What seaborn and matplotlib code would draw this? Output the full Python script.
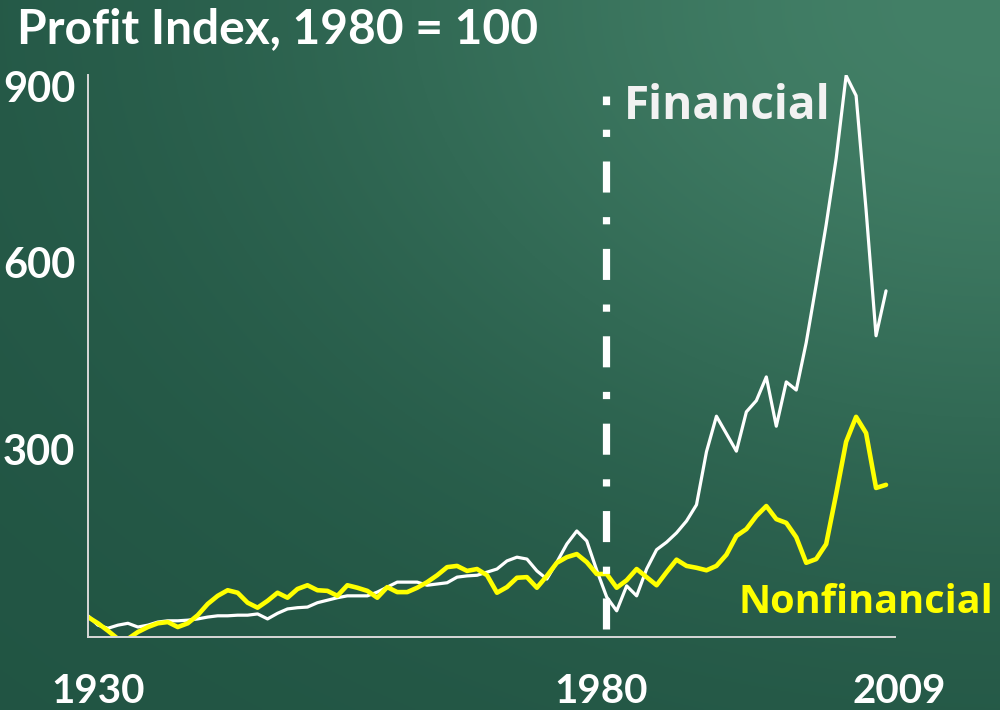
import numpy as np
import pandas as pd
import matplotlib
matplotlib.use("Agg")
import matplotlib.pyplot as plt
import matplotlib.transforms as mtransforms
import seaborn as sns

# =========================
# data
# =========================
years = list(range(1929, 2010))

financial = [
    34, 19, 14, 19, 22, 16, 19, 24, 26, 26,
    27, 29, 32, 34, 34, 35, 35, 37, 29, 38,
    45, 47, 48, 55, 59, 63, 66, 66, 66, 72,
    80, 88, 88, 88, 83, 85, 87, 96, 98, 99,
    104, 109, 122, 128, 125, 106, 93, 120, 149, 170,
    154, 107, 64, 42, 82, 66, 109, 140, 152, 167,
    186, 212, 297, 354, 326, 298, 361, 379, 417, 338,
    409, 396, 472, 565, 661, 767, 900, 868, 685, 483,
    555,
]

nonfinancial = [
    32, 22, 10, -3, -3, 8, 16, 22, 24, 16,
    22, 35, 53, 66, 75, 71, 55, 47, 58, 71,
    63, 77, 83, 75, 74, 66, 83, 79, 74, 63,
    80, 72, 72, 79, 88, 99, 112, 114, 106, 109,
    99, 71, 80, 95, 96, 79, 98, 119, 128, 133,
    120, 101, 101, 79, 91, 109, 96, 83, 104, 124,
    114, 111, 107, 114, 132, 162, 173, 194, 210, 189,
    183, 160, 119, 125, 149, 229, 313, 353, 327, 239,
    244,
]

ytick_vals = [300, 600, 900]
xtick_years = [1930, 1980, 2009]
title = "Profit Index, 1980 = 100"

df = pd.DataFrame({"year": years, "Financial": financial, "Nonfinancial": nonfinancial})

# =========================
# style
# =========================
sns.set_style("white")
plt.rcParams["font.family"] = ["Lato", "DejaVu Sans"]

fig = plt.figure(figsize=(10, 7.1), dpi=100)

# chalkboard-like green gradient
bg_ax = fig.add_axes([0, 0, 1, 1], zorder=-10)
gx, gy = np.meshgrid(np.linspace(0, 1, 400), np.linspace(0, 1, 300))
d2 = (1 - gx) ** 2 + (1 - gy) ** 2
t = np.exp(-d2 / 0.5)[..., None]
dark = np.array([0x21, 0x54, 0x43]) / 255
light = np.array([0x43, 0x80, 0x67]) / 255
bg_ax.imshow(dark + (light - dark) * t, origin="lower", extent=[0, 1, 0, 1], aspect="auto")
bg_ax.axis("off")

ax = fig.add_axes([0.088, 0.1028, 0.807, 0.7915])
ax.patch.set_alpha(0)

sns.lineplot(data=df, x="year", y="Financial", ax=ax, color="white", lw=2.3)
sns.lineplot(data=df, x="year", y="Nonfinancial", ax=ax, color="#ffff00", lw=3.3)

ax.set_xlim(1929, 2009.9)
ax.set_ylim(0, 901)

# 1980 divider (dash-dot, drawn bottom -> top)
divider_year = 1980.9
ax.plot([divider_year, divider_year], [13, 868], color="white", lw=5.2,
        dashes=(4.3, 3.4, 1.0, 3.4), solid_capstyle="butt", dash_capstyle="butt")

# spines / ticks
for s in ["top", "right"]:
    ax.spines[s].set_visible(False)
for s in ["left", "bottom"]:
    ax.spines[s].set_color("#d8d8d8")
    ax.spines[s].set_linewidth(1.4)

ax.set_yticks(ytick_vals)
ax.set_yticklabels([str(v) for v in ytick_vals])
ax.set_xticks(xtick_years)
ax.set_xticklabels([str(v) for v in xtick_years])
ax.tick_params(axis="y", length=0, pad=9, labelsize=30, labelcolor="white")
ax.tick_params(axis="x", length=0, pad=26, labelsize=29, labelcolor="white")
for lab in ax.get_yticklabels() + ax.get_xticklabels():
    lab.set_fontweight("bold")
ax.set_xlabel("")
ax.set_ylabel("")

# nudge a few labels like in the original slide
shift = lambda dx, dy: mtransforms.ScaledTranslation(dx / 100, dy / 100, fig.dpi_scale_trans)
ylabs = ax.get_yticklabels()
ylabs[-1].set_transform(ylabs[-1].get_transform() + shift(0, -11))
xlabs = ax.get_xticklabels()
xlabs[1].set_transform(xlabs[1].get_transform() + shift(4, 0))
xlabs[2].set_transform(xlabs[2].get_transform() + shift(13, 0))

# series labels
ax.text(1982.7, 831, "Financial", color="#f2f2f2", fontsize=33, fontweight="bold",
        family=["Open Sans", "DejaVu Sans"], va="baseline", ha="left")
ax.text(1994.2, 38, "Nonfinancial", color="#ffff00", fontsize=28.5, fontweight="bold",
        family=["Open Sans", "DejaVu Sans"], va="baseline", ha="left")

fig.text(0.017, 0.939, title, color="white", fontsize=34.5, fontweight="bold",
         va="baseline", ha="left")

fig.savefig("out.png", dpi=100)
plt.close(fig)
